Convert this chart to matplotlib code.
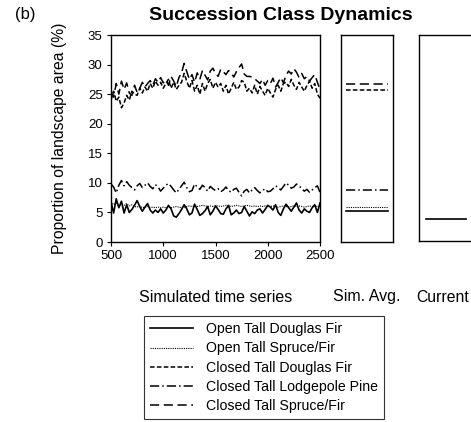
import matplotlib
matplotlib.use('Agg')
import matplotlib.pyplot as plt
import numpy as np

plt.rcParams['font.family'] = ['Liberation Sans', 'DejaVu Sans']

# simulated years, every 25 yr
years = np.arange(500, 2501, 25)

# Closed Tall Spruce/Fir (long dash)
ctsf = [25.5, 24.5, 26.8, 25.0, 27.2, 25.8, 26.9, 25.2, 24.8, 26.5, 25.3, 26.0, 27.0, 26.2, 26.8, 27.3, 26.5, 27.6, 27.0, 27.8, 26.9,
        27.4, 26.5, 28.0, 27.2, 26.3, 27.8, 28.6, 30.2, 28.8, 27.5, 28.3, 27.0, 28.6, 27.5, 29.0, 28.2, 27.4, 28.9, 29.4, 28.5,
        28.0, 29.2, 28.8, 28.3, 29.0, 28.6, 27.9, 28.8, 29.5, 30.1, 28.4, 28.0, 28.0, 27.9, 27.6, 27.2, 26.8, 27.5, 26.5, 27.3,
        26.8, 27.7, 26.2, 27.0, 27.8, 26.9, 28.2, 28.9, 28.4, 29.3, 28.7, 27.8, 28.5, 27.6, 28.0, 27.2, 27.8, 28.3, 27.0, 25.8]
# Closed Tall Douglas Fir (short dash)
ctdf = [24.0, 25.5, 23.8, 24.5, 22.7, 23.5, 24.8, 24.0, 25.5, 25.0, 24.8, 26.0, 25.2, 26.2, 25.5, 26.8, 26.0, 27.2, 26.5, 27.0, 26.0,
        26.8, 27.5, 26.0, 27.0, 25.8, 26.5, 27.0, 28.5, 27.2, 26.0, 27.3, 25.5, 26.5, 25.0, 26.8, 25.5, 26.8, 27.5, 26.0, 27.0,
        26.2, 26.8, 25.5, 26.5, 25.0, 26.0, 27.0, 25.8, 26.2, 27.3, 27.0, 25.5, 26.0, 25.2, 26.5, 25.0, 26.3, 25.5, 24.8, 26.0,
        25.2, 24.5, 25.8, 26.5, 25.5, 26.8, 27.0, 26.3, 27.5, 26.5, 25.8, 27.0, 26.2, 25.5, 26.5, 27.2, 26.0, 26.8, 25.0, 24.3]
# Closed Tall Lodgepole Pine (dash-dot)
ctlp = [9.8, 9.3, 8.3, 9.6, 10.4, 9.5, 10.2, 9.6, 9.2, 8.8, 9.5, 9.9, 9.2, 9.6, 10.0, 9.4, 9.0, 9.7, 9.3, 8.6, 9.1,
        9.6, 9.9, 9.4, 8.8, 8.3, 8.9, 9.5, 10.1, 9.2, 8.5, 8.7, 9.8, 9.3, 8.9, 9.6, 9.2, 8.6, 9.4, 9.0, 8.7,
        9.0, 8.5, 8.8, 9.3, 8.7, 8.4, 8.9, 9.1, 8.4, 7.8, 8.6, 8.9, 8.3, 8.8, 9.2, 8.7, 8.3, 8.7, 9.0, 8.5,
        8.6, 9.0, 9.5, 9.2, 8.8, 9.4, 10.0, 9.6, 9.1, 9.3, 9.8, 9.5, 9.0, 8.6, 8.9, 8.4, 8.8, 9.2, 9.5, 8.4]
# Open Tall Spruce/Fir (dotted)
otsf = [6.8, 6.3, 6.6, 6.0, 6.4, 6.2, 6.5, 6.1, 6.3, 6.0, 5.9, 6.1, 5.8, 5.9, 6.0, 5.8, 5.9, 5.8, 5.9, 5.8, 5.9,
        5.8, 5.9, 5.8, 5.9, 6.0, 5.9, 5.8, 5.9, 6.0, 6.1, 6.0, 6.1, 6.0, 6.1, 6.2, 6.1, 6.0, 6.1, 6.0, 6.1,
        6.1, 6.0, 6.1, 6.2, 6.1, 6.0, 6.1, 6.2, 6.1, 6.0, 6.1, 6.2, 6.1, 6.0, 6.1, 6.0, 6.1, 6.0, 6.1, 6.0,
        6.0, 6.1, 6.0, 5.9, 6.0, 6.1, 6.0, 5.9, 6.0, 6.1, 6.0, 6.1, 6.0, 5.9, 6.0, 6.1, 6.0, 6.1, 6.0, 6.0]
# Open Tall Douglas Fir (solid)
otdf = [6.8, 4.9, 7.3, 5.8, 6.9, 4.9, 6.3, 5.0, 5.5, 6.2, 7.0, 6.0, 5.2, 5.9, 6.5, 5.4, 4.9, 5.4, 5.0, 5.6, 4.9,
        5.4, 6.2, 5.6, 4.4, 4.2, 4.8, 5.5, 6.3, 5.6, 4.6, 4.9, 6.4, 5.5, 4.5, 4.8, 5.3, 6.0, 4.6, 5.2, 6.1,
        5.5, 4.8, 4.7, 5.6, 6.2, 4.6, 4.9, 5.4, 4.8, 5.0, 6.0, 5.2, 4.4, 5.1, 4.8, 5.4, 5.6, 4.9, 5.5, 6.2,
        5.9, 5.4, 6.3, 5.0, 4.5, 5.6, 6.4, 5.8, 5.2, 5.9, 6.6, 5.4, 4.9, 5.6, 5.2, 5.0, 5.8, 6.3, 5.0, 6.6]

names = ['Open Tall Douglas Fir', 'Open Tall Spruce/Fir', 'Closed Tall Douglas Fir',
         'Closed Tall Lodgepole Pine', 'Closed Tall Spruce/Fir']
series = [otdf, otsf, ctdf, ctlp, ctsf]
sim_avg = [5.24, 5.87, 25.7, 8.85, 26.7]
current = 3.7  # only Open Tall Douglas Fir shown

styles = [
    dict(linestyle='-', linewidth=1.2),
    dict(linestyle=(0, (1, 1)), linewidth=0.8),
    dict(linestyle=(0, (3, 1.5)), linewidth=1.1),
    dict(linestyle=(0, (6, 2, 1, 2)), linewidth=1.1),
    dict(linestyle=(0, (6, 3)), linewidth=1.1),
]

fig = plt.figure(figsize=(4.71, 4.22), dpi=100)
W, H = 471, 422


def add_ax(x0, x1, y0=35, y1=242):
    return fig.add_axes([x0 / W, 1 - y1 / H, (x1 - x0) / W, (y1 - y0) / H])


ax = add_ax(111, 320)
for s, st, nm in zip(series, styles, names):
    ax.plot(years, s, color='black', label=nm, **st)
ax.set_xlim(500, 2500)
ax.set_ylim(0, 35)
ax.set_xticks(range(500, 2501, 500))
ax.set_yticks(range(0, 36, 5))
ax.tick_params(direction='out', length=3, labelsize=9.5, pad=3)
ax.set_ylabel('Proportion of landscape area (%)', fontsize=11.3, labelpad=15)

ax2 = add_ax(341, 393)
for v, st in zip(sim_avg, styles):
    ax2.plot([0.1, 0.9], [v, v], color='black', **st)
ax2.set_xlim(0, 1)
ax2.set_ylim(0, 35)
ax2.set_xticks([])
ax2.set_yticks([])

ax3 = add_ax(419, 473, y1=241)
ax3.plot([0.13, 0.87], [current, current], color='black', **styles[0])
ax3.set_xlim(0, 1)
ax3.set_ylim(0, 35)
ax3.set_xticks([])
ax3.set_yticks([])

for a in (ax, ax2, ax3):
    for sp in a.spines.values():
        sp.set_linewidth(1.0)

fig.text(216 / W, 1 - 297 / H, 'Simulated time series', ha='center', va='center', fontsize=11.5)
fig.text(367 / W, 1 - 297 / H, 'Sim. Avg.', ha='center', va='center', fontsize=11.5)
fig.text(416 / W, 1 - 297 / H, 'Current', ha='left', va='center', fontsize=11.3)

fig.text(281 / W, 1 - 15 / H, 'Succession Class Dynamics', ha='center', va='center',
         fontsize=14, fontweight='bold')
fig.text(15 / W, 1 - 15 / H, '(b)', ha='left', va='center', fontsize=12)

leg = fig.legend(loc='upper left', bbox_to_anchor=(144 / W, 1 - 316 / H), fontsize=10.2,
                 handlelength=3.0, frameon=True, fancybox=False, borderpad=0.45,
                 labelspacing=0.36, handletextpad=0.9, borderaxespad=0)
leg.get_frame().set_edgecolor('black')
leg.get_frame().set_linewidth(0.8)

fig.savefig('out.png', dpi=100)
